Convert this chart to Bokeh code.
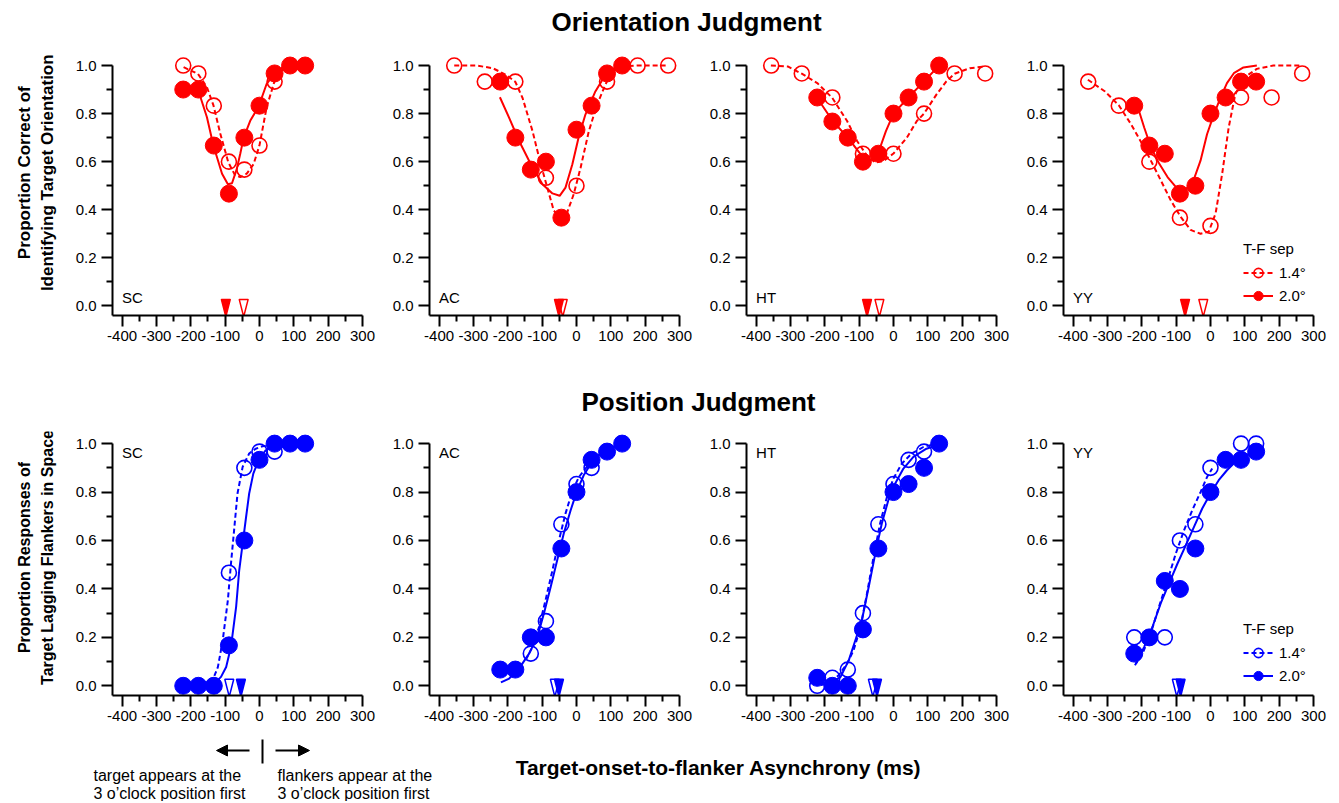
import math
from bokeh.plotting import figure
from bokeh.layouts import column, row
from bokeh.models import (Range1d, FixedTicker, PrintfTickFormatter, Label, Legend,
                          LegendItem, Arrow, NormalHead)
from bokeh.embed import file_html
from bokeh.resources import INLINE

FONT = "Liberation Sans"
RED = "#ff0000"
BLUE = "#0000ff"

SUBJECTS = ["SC", "AC", "HT", "YY"]
X_TICKS = [-400, -300, -200, -100, 0, 100, 200, 300]
X_MINOR = [-350, -250, -150, -50, 50, 150, 250]
Y_TICKS = [0.0, 0.2, 0.4, 0.6, 0.8, 1.0]
Y_MINOR = [0.1, 0.3, 0.5, 0.7, 0.9]

# ---------------- Orientation judgment (red) ----------------
ORI_SC_14_X = [-222, -178, -133, -89, -44, 0, 44]
ORI_SC_14_Y = [1.0, 0.967, 0.833, 0.6, 0.567, 0.667, 0.933]
ORI_SC_20_X = [-222, -178, -133, -89, -44, 0, 44, 89, 133]
ORI_SC_20_Y = [0.9, 0.9, 0.667, 0.467, 0.7, 0.833, 0.967, 1.0, 1.0]
ORI_SC_FIT14_X = [-221, -179, -153, -134, -114, -91, -71, -56, -37, -17, 0, 21, 43, 65, 86]
ORI_SC_FIT14_Y = [0.993, 0.965, 0.91, 0.834, 0.716, 0.598, 0.543, 0.536, 0.55, 0.59, 0.668, 0.827, 0.931, 0.979, 0.996]
ORI_SC_FIT20_X = [-179, -153, -134, -109, -92, -80, -66, -56, -46, -27, -2, 21, 43, 65, 86]
ORI_SC_FIT20_Y = [0.9, 0.785, 0.666, 0.55, 0.506, 0.51, 0.57, 0.633, 0.70, 0.77, 0.831, 0.924, 0.965, 0.99, 1.0]

ORI_AC_14_X = [-356, -267, -178, -89, 0, 89, 178, 267]
ORI_AC_14_Y = [1.0, 0.933, 0.933, 0.533, 0.5, 0.933, 1.0, 1.0]
ORI_AC_20_X = [-222, -178, -133, -89, -44, 0, 44, 89, 133]
ORI_AC_20_Y = [0.933, 0.7, 0.567, 0.6, 0.367, 0.733, 0.833, 0.967, 1.0]
ORI_AC_FIT14_X = [-356, -292, -244, -205, -178, -157, -128, -104, -85, -66, -46, -27, -8, 12, 36, 60, 84, 103, 132, 178, 267]
ORI_AC_FIT14_Y = [1.0, 1.0, 0.989, 0.961, 0.932, 0.865, 0.727, 0.589, 0.492, 0.396, 0.368, 0.389, 0.465, 0.575, 0.727, 0.837, 0.92, 0.975, 0.996, 1.0, 1.0]
ORI_AC_FIT20_X = [-223, -196, -167, -133, -99, -70, -49, -32, -12, 7, 26, 55, 84, 113, 135]
ORI_AC_FIT20_Y = [0.868, 0.782, 0.686, 0.589, 0.506, 0.468, 0.458, 0.492, 0.589, 0.706, 0.796, 0.892, 0.961, 0.992, 1.0]

ORI_HT_14_X = [-356, -267, -178, -89, 0, 89, 178, 267]
ORI_HT_14_Y = [1.0, 0.967, 0.867, 0.633, 0.633, 0.8, 0.967, 0.967]
ORI_HT_20_X = [-222, -178, -133, -89, -44, 0, 44, 89, 133]
ORI_HT_20_Y = [0.867, 0.767, 0.7, 0.6, 0.633, 0.8, 0.867, 0.933, 1.0]
ORI_HT_FIT14_X = [-357, -308, -267, -222, -178, -135, -106, -77, -53, -29, 0, 39, 68, 89, 125, 154, 178, 222, 267]
ORI_HT_FIT14_Y = [1.0, 0.996, 0.966, 0.927, 0.865, 0.769, 0.686, 0.624, 0.596, 0.603, 0.634, 0.7, 0.769, 0.8, 0.879, 0.934, 0.966, 0.989, 0.996]
ORI_HT_FIT20_X = [-222, -177, -133, -96, -72, -44, -22, 0, 44, 89, 133]
ORI_HT_FIT20_Y = [0.865, 0.769, 0.7, 0.631, 0.6, 0.638, 0.727, 0.8, 0.868, 0.934, 1.0]

ORI_YY_14_X = [-356, -267, -178, -89, 0, 89, 178, 267]
ORI_YY_14_Y = [0.933, 0.833, 0.6, 0.367, 0.333, 0.867, 0.867, 0.967]
ORI_YY_20_X = [-222, -178, -133, -89, -44, 0, 44, 89, 133]
ORI_YY_20_Y = [0.833, 0.667, 0.633, 0.467, 0.5, 0.8, 0.867, 0.933, 0.933]
ORI_YY_FIT14_X = [-357, -308, -267, -231, -193, -154, -116, -87, -58, -29, -5, 15, 34, 53, 72, 96, 135, 183, 260]
ORI_YY_FIT14_Y = [0.941, 0.893, 0.835, 0.755, 0.659, 0.549, 0.44, 0.371, 0.316, 0.3, 0.309, 0.385, 0.549, 0.742, 0.879, 0.948, 0.986, 1.0, 1.0]
ORI_YY_FIT20_X = [-214, -193, -173, -149, -125, -101, -77, -53, -29, -10, 10, 29, 48, 68, 96, 135]
ORI_YY_FIT20_Y = [0.838, 0.742, 0.659, 0.591, 0.536, 0.495, 0.481, 0.508, 0.604, 0.714, 0.797, 0.865, 0.927, 0.968, 0.992, 1.0]

ORI_THR14 = [-46, -40, -41, -21]   # open triangles (SC, AC, HT, YY)
ORI_THR20 = [-98, -51, -77, -74]   # filled triangles

# ---------------- Position judgment (blue) ----------------
POS_SC_14_X = [-133, -89, -44, 0, 44]
POS_SC_14_Y = [0.0, 0.467, 0.9, 0.967, 0.967]
POS_SC_20_X = [-222, -178, -133, -89, -44, 0, 44, 89, 133]
POS_SC_20_Y = [0.0, 0.0, 0.0, 0.167, 0.6, 0.933, 1.0, 1.0, 1.0]
POS_SC_FIT14_X = [-140, -121, -107, -92, -83, -73, -64, -49, -30, -11, 9, 38]
POS_SC_FIT14_Y = [0.01, 0.078, 0.188, 0.354, 0.505, 0.656, 0.794, 0.904, 0.959, 0.979, 0.989, 0.996]
POS_SC_FIT20_X = [-131, -112, -97, -83, -68, -59, -49, -39, -30, -18, -1, 18, 38, 62]
POS_SC_FIT20_Y = [0.01, 0.037, 0.078, 0.161, 0.326, 0.477, 0.587, 0.697, 0.794, 0.876, 0.938, 0.972, 0.986, 0.997]

POS_AC_14_X = [-133, -89, -44, 0, 44]
POS_AC_14_Y = [0.133, 0.267, 0.667, 0.833, 0.9]
POS_AC_20_X = [-222, -178, -133, -89, -44, 0, 44, 89, 133]
POS_AC_20_Y = [0.067, 0.067, 0.2, 0.2, 0.567, 0.8, 0.933, 0.967, 1.0]
POS_AC_FIT14_X = [-148, -128, -109, -90, -70, -51, -32, -13, 7, 26, 41]
POS_AC_FIT14_Y = [0.106, 0.161, 0.243, 0.354, 0.477, 0.601, 0.711, 0.8, 0.862, 0.897, 0.917]
POS_AC_FIT20_X = [-220, -196, -167, -138, -114, -95, -75, -56, -37, -17, 2, 21, 45, 74, 103, 135]
POS_AC_FIT20_Y = [0.014, 0.03, 0.072, 0.133, 0.202, 0.298, 0.409, 0.519, 0.629, 0.725, 0.807, 0.869, 0.924, 0.966, 0.986, 0.997]

POS_HT_14_X = [-222, -178, -133, -89, -44, 0, 44, 89]
POS_HT_14_Y = [0.0, 0.033, 0.067, 0.3, 0.667, 0.833, 0.933, 0.967]
POS_HT_20_X = [-222, -178, -133, -89, -44, 0, 44, 89, 133]
POS_HT_20_Y = [0.033, 0.0, 0.0, 0.233, 0.567, 0.8, 0.833, 0.9, 1.0]
POS_HT_FIT14_X = [-183, -159, -135, -116, -96, -77, -58, -39, -19, 0, 24, 53, 87, 116]
POS_HT_FIT14_Y = [0.017, 0.044, 0.092, 0.147, 0.243, 0.382, 0.532, 0.67, 0.78, 0.856, 0.917, 0.959, 0.986, 0.997]
POS_HT_FIT20_X = [-212, -183, -154, -130, -111, -92, -72, -53, -34, -15, 5, 29, 58, 96, 135]
POS_HT_FIT20_Y = [0.003, 0.01, 0.037, 0.106, 0.188, 0.271, 0.409, 0.546, 0.67, 0.766, 0.835, 0.897, 0.945, 0.979, 0.997]

POS_YY_14_X = [-222, -178, -133, -89, -44, 0, 89, 133]
POS_YY_14_Y = [0.2, 0.2, 0.2, 0.6, 0.667, 0.9, 1.0, 1.0]
POS_YY_20_X = [-222, -178, -133, -89, -44, 0, 44, 89, 133]
POS_YY_20_Y = [0.133, 0.2, 0.433, 0.4, 0.567, 0.8, 0.933, 0.933, 0.967]
POS_YY_FIT14_X = [-220, -198, -174, -150, -125, -101, -77, -53, -29, -10, 5]
POS_YY_FIT14_Y = [0.085, 0.133, 0.216, 0.326, 0.436, 0.546, 0.642, 0.725, 0.8, 0.862, 0.897]
POS_YY_FIT20_X = [-217, -193, -169, -145, -121, -96, -72, -48, -24, 0, 24, 48, 72, 96, 135]
POS_YY_FIT20_Y = [0.092, 0.161, 0.243, 0.34, 0.422, 0.505, 0.58, 0.656, 0.732, 0.794, 0.849, 0.89, 0.924, 0.948, 0.972]

POS_THR14 = [-88, -63, -60, -98]
POS_THR20 = [-54, -51, -48, -87]

ORI = {
    "SC": (ORI_SC_14_X, ORI_SC_14_Y, ORI_SC_20_X, ORI_SC_20_Y, ORI_SC_FIT14_X, ORI_SC_FIT14_Y, ORI_SC_FIT20_X, ORI_SC_FIT20_Y),
    "AC": (ORI_AC_14_X, ORI_AC_14_Y, ORI_AC_20_X, ORI_AC_20_Y, ORI_AC_FIT14_X, ORI_AC_FIT14_Y, ORI_AC_FIT20_X, ORI_AC_FIT20_Y),
    "HT": (ORI_HT_14_X, ORI_HT_14_Y, ORI_HT_20_X, ORI_HT_20_Y, ORI_HT_FIT14_X, ORI_HT_FIT14_Y, ORI_HT_FIT20_X, ORI_HT_FIT20_Y),
    "YY": (ORI_YY_14_X, ORI_YY_14_Y, ORI_YY_20_X, ORI_YY_20_Y, ORI_YY_FIT14_X, ORI_YY_FIT14_Y, ORI_YY_FIT20_X, ORI_YY_FIT20_Y),
}
POS = {
    "SC": (POS_SC_14_X, POS_SC_14_Y, POS_SC_20_X, POS_SC_20_Y, POS_SC_FIT14_X, POS_SC_FIT14_Y, POS_SC_FIT20_X, POS_SC_FIT20_Y),
    "AC": (POS_AC_14_X, POS_AC_14_Y, POS_AC_20_X, POS_AC_20_Y, POS_AC_FIT14_X, POS_AC_FIT14_Y, POS_AC_FIT20_X, POS_AC_FIT20_Y),
    "HT": (POS_HT_14_X, POS_HT_14_Y, POS_HT_20_X, POS_HT_20_Y, POS_HT_FIT14_X, POS_HT_FIT14_Y, POS_HT_FIT20_X, POS_HT_FIT20_Y),
    "YY": (POS_YY_14_X, POS_YY_14_Y, POS_YY_20_X, POS_YY_20_Y, POS_YY_FIT14_X, POS_YY_FIT14_Y, POS_YY_FIT20_X, POS_YY_FIT20_Y),
}

TOTAL_W = 1328
TRI_HALF = 13      # half width of threshold triangle, ms
TRI_TOP = 0.027
TRI_TIP = -0.045


def panel(subj, idx, data, thr14, thr20, color, height, border_bottom, label_y, show_legend):
    first = idx == 0
    p = figure(width=309 if first else 317, height=height,
               x_range=Range1d(-428, 300), y_range=Range1d(-0.04, 1.05),
               output_backend="svg", toolbar_location=None,
               min_border_left=44 if first else 52, min_border_right=15,
               min_border_top=10, min_border_bottom=border_bottom)
    p.grid.visible = False
    p.outline_line_color = None
    p.background_fill_color = "white"
    p.border_fill_color = "white"
    p.xaxis.ticker = FixedTicker(ticks=X_TICKS, minor_ticks=X_MINOR)
    p.yaxis.ticker = FixedTicker(ticks=Y_TICKS, minor_ticks=Y_MINOR)
    p.xaxis.formatter = PrintfTickFormatter(format="%d")
    p.yaxis.formatter = PrintfTickFormatter(format="%.1f")
    p.yaxis.bounds = (-0.04, 1.0)
    for ax in (p.xaxis[0], p.yaxis[0]):
        ax.axis_line_width = 2
        ax.axis_line_color = "black"
        ax.major_tick_line_width = 2
        ax.minor_tick_line_width = 2
        ax.major_tick_line_color = "black"
        ax.minor_tick_line_color = "black"
        ax.major_tick_out = 11
        ax.major_tick_in = 0
        ax.minor_tick_out = 6
        ax.minor_tick_in = 0
        ax.major_label_text_font = FONT
        ax.major_label_text_font_size = "15px"
        ax.major_label_text_color = "black"
    p.xaxis.major_label_standoff = 4
    p.yaxis.major_label_standoff = 5

    x14, y14, x20, y20, fx14, fy14, fx20, fy20 = data
    r_d = p.line(fx14, fy14, line_color=color, line_width=2, line_dash="5 3")
    r_s = p.line(fx20, fy20, line_color=color, line_width=2)
    r_o = p.scatter(x14, y14, marker="circle", size=15, fill_color=None,
                    line_color=color, line_width=1.6)
    r_f = p.scatter(x20, y20, marker="circle", size=17, fill_color=color,
                    line_color=color, line_width=1)

    # threshold triangles
    p.patches([[thr20 - TRI_HALF, thr20 + TRI_HALF, thr20]], [[TRI_TOP, TRI_TOP, TRI_TIP]],
              fill_color=color, line_color=color, line_width=1.5)
    p.patches([[thr14 - TRI_HALF, thr14 + TRI_HALF, thr14]], [[TRI_TOP, TRI_TOP, TRI_TIP]],
              fill_color="white", fill_alpha=0, line_color=color, line_width=1.5)

    p.add_layout(Label(x=-400, y=label_y, text=subj, text_font=FONT, text_font_size="15px",
                       text_align="left", text_baseline="middle", text_color="black"))

    if show_legend:
        legend = Legend(items=[LegendItem(label="1.4°", renderers=[r_d, r_o]),
                               LegendItem(label="2.0°", renderers=[r_s, r_f])],
                        location=(180, 8), title="T-F sep",
                        title_text_font=FONT, title_text_font_size="15px",
                        title_text_font_style="normal", title_text_color="black",
                        title_standoff=4,
                        label_text_font=FONT, label_text_font_size="15px",
                        label_text_color="black",
                        glyph_width=30, glyph_height=23, label_height=23,
                        label_standoff=6, spacing=0, padding=0, margin=0,
                        background_fill_alpha=0, border_line_alpha=0)
        p.add_layout(legend)
    return p


def blank(width, height, y_top, y_bottom, x_left, x_right):
    f = figure(width=width, height=height, x_range=Range1d(x_left, x_right),
               y_range=Range1d(y_bottom, y_top), output_backend="svg",
               toolbar_location=None, x_axis_type=None, y_axis_type=None,
               min_border=0, min_border_left=0, min_border_right=0,
               min_border_top=0, min_border_bottom=0)
    f.grid.visible = False
    f.outline_line_color = None
    return f


def txt(x, y, text, size, bold=False, align="center", angle=0.0):
    return Label(x=x, y=y, text=text, text_font=FONT, text_font_size=size,
                 text_font_style="bold" if bold else "normal", text_color="black",
                 text_align=align, text_baseline="middle", angle=angle)


# ---- title 1 ----
t1 = blank(TOTAL_W, 43, 0, 43, 0, TOTAL_W)
t1.add_layout(txt(686, 21, "Orientation Judgment", "26px", bold=True))

# ---- top row ----
yl1 = blank(68, 312, 43, 355, 0, 68)
yl1.add_layout(txt(24, 185, "Proportion Correct of", "17px", bold=True, angle=math.pi / 2))
yl1.add_layout(txt(47, 185, "Identifying Target Orientation", "17px", bold=True, angle=math.pi / 2))
top_panels = [panel(s, i, ORI[s], ORI_THR14[i], ORI_THR20[i], RED, 312, 40, 0.035, i == 3)
              for i, s in enumerate(SUBJECTS)]

# ---- title 2 ----
t2 = blank(TOTAL_W, 66, 355, 421, 0, TOTAL_W)
t2.add_layout(txt(698, 401, "Position Judgment", "26px", bold=True))

# ---- bottom row ----
yl2 = blank(68, 308, 421, 729, 0, 68)
yl2.add_layout(txt(24, 568, "Proportion Responses of", "16px", bold=True, angle=math.pi / 2))
yl2.add_layout(txt(47, 568, "Target Lagging Flankers in Space", "16px", bold=True, angle=math.pi / 2))
bot_panels = [panel(s, i, POS[s], POS_THR14[i], POS_THR20[i], BLUE, 308, 34, 0.965, i == 3)
              for i, s in enumerate(SUBJECTS)]

# ---- bottom annotation ----
an = blank(TOTAL_W, 72, 729, 801, 0, TOTAL_W)
an.add_layout(Arrow(x_start=249, y_start=750, x_end=216, y_end=750, line_width=2,
                    line_color="black",
                    end=NormalHead(size=11, fill_color="black", line_color="black")))
an.add_layout(Arrow(x_start=275, y_start=750, x_end=309, y_end=750, line_width=2,
                    line_color="black",
                    end=NormalHead(size=11, fill_color="black", line_color="black")))
an.add_layout(Arrow(x_start=262, y_start=739, x_end=262, y_end=763, line_width=2,
                    line_color="black", end=None))
an.add_layout(txt(718, 767, "Target-onset-to-flanker Asynchrony (ms)", "21px", bold=True))
for xx, yy, tt in [(93, 775, "target appears at the"), (93, 793, "3 o\u2019clock position first"),
                   (277, 775, "flankers appear at the"), (277, 793, "3 o\u2019clock position first")]:
    an.add_layout(txt(xx, yy, tt, "16px", align="left"))

layout = column(t1, row(yl1, *top_panels), t2, row(yl2, *bot_panels), an)

open("out.html", "w").write(file_html(layout, INLINE))
